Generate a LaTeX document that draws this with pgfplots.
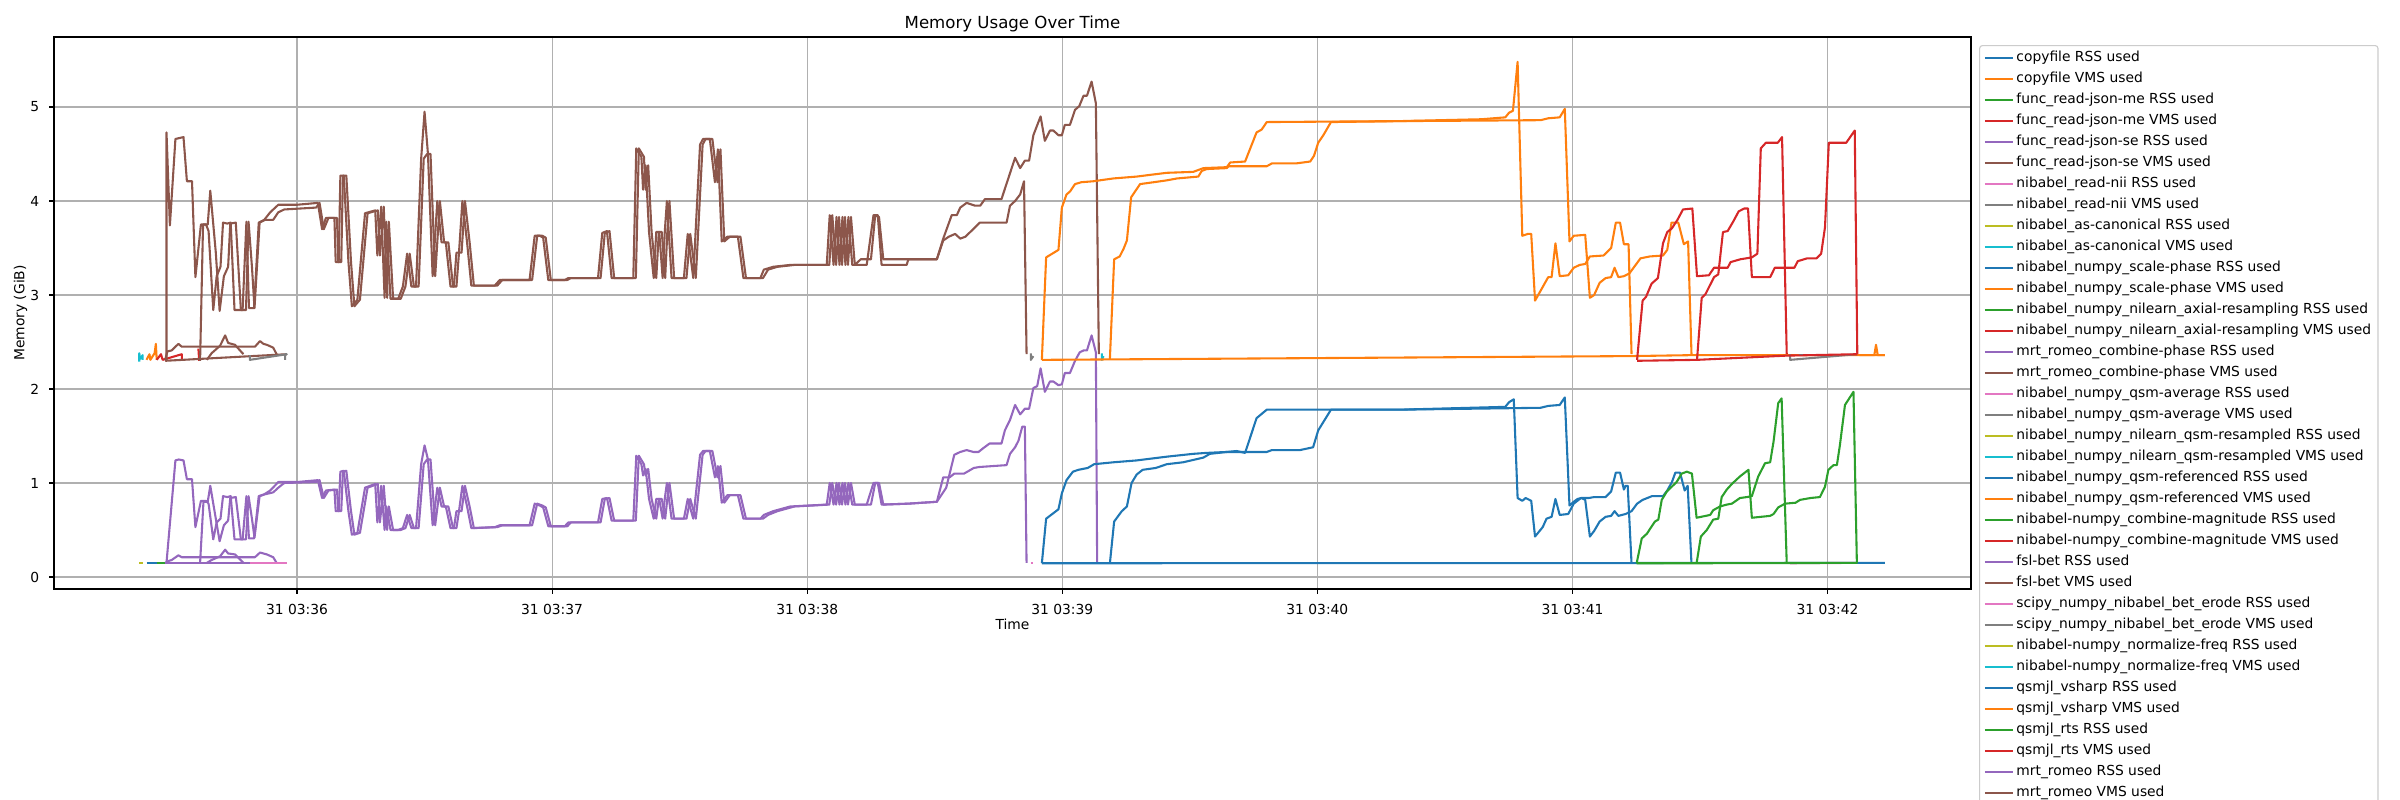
\documentclass[border=0pt]{standalone}
\usepackage{pgfplots}
\pgfplotsset{compat=1.18}
\usepackage{fontspec}
\setmainfont{DejaVu Sans}
\definecolor{C0}{HTML}{1F77B4}
\definecolor{C1}{HTML}{FF7F0E}
\definecolor{C2}{HTML}{2CA02C}
\definecolor{C3}{HTML}{D62728}
\definecolor{C4}{HTML}{9467BD}
\definecolor{C5}{HTML}{8C564B}
\definecolor{C6}{HTML}{E377C2}
\definecolor{C7}{HTML}{7F7F7F}
\definecolor{C8}{HTML}{BCBD22}
\definecolor{C9}{HTML}{17BECF}
\definecolor{gridgray}{HTML}{B0B0B0}
\definecolor{legframe}{HTML}{CCCCCC}
\begin{document}
\fontsize{10}{12}\selectfont
\begin{tikzpicture}
\path[use as bounding box, clip] (0,0) rectangle (24in,8in);
\begin{axis}[
  at={(0.54in,2.11in)}, anchor=south west,
  width=19.17in, height=5.52in, scale only axis,
  xmin=2.84, xmax=453.75, ymin=-0.128, ymax=5.745,
  xtick={60,120,180,240,300,360,420},
  xticklabels={31 03:36,31 03:37,31 03:38,31 03:39,31 03:40,31 03:41,31 03:42},
  ytick={0,1,2,3,4,5},
  /pgf/number format/assume math mode=true,
  tick label style={font=\fontsize{10}{12}\selectfont},
  xticklabel style={anchor=north, inner sep=0pt, yshift=-7bp},
  yticklabel style={anchor=east, inner sep=0pt, xshift=-7bp},
  grid=major,
  major grid style={draw=gridgray, line width=0.8bp},
  axis line style={line width=0.8bp, black},
  tick align=outside, tick pos=left,
  major tick length=3.5bp,
  every tick/.style={black, line width=0.8bp},
  every axis plot/.append style={line width=1.5bp, line join=round},
  legend image code/.code={\draw[#1] (0bp,0bp) -- (20bp,0bp);},
  legend style={at={(1,1)}, anchor=north west, xshift=5.8bp, yshift=-5.8bp,
    draw=legframe, line width=0.8bp, rounded corners=2bp, fill=white,
    font=\fontsize{10}{12}\selectfont, cells={anchor=west},
    nodes={text height=7.6bp, text depth=2.4bp, inner ysep=0bp},
    row sep=5.12bp, inner xsep=3bp, inner ysep=4bp,
    /tikz/every even column/.append style={column sep=4bp}},
]
% ---------- early small processes ----------
\addplot[C8, forget plot] coordinates {(22.9,0.146) (23.7,0.146)};
\addplot[C9, forget plot] coordinates {(22.9,2.29) (22.9,2.38) (23.1,2.32) (23.7,2.36) (23.7,2.31)};
\addplot[C0, forget plot] coordinates {(24.6,0.146) (27.0,0.146)};
\addplot[C1, forget plot] coordinates {(24.6,2.31) (25.3,2.37) (25.5,2.31) (26.5,2.38) (26.8,2.48) (27.0,2.31)};
\addplot[C2, forget plot] coordinates {(27.0,0.146) (32.9,0.146)};
\addplot[C3, forget plot] coordinates {(27.0,2.31) (28.0,2.37) (28.4,2.31) (32.9,2.37) (32.9,2.30)};
\addplot[C2, forget plot] coordinates {(36.8,0.146) (37.0,0.146)};
\addplot[C3, forget plot] coordinates {(36.8,2.43) (37.0,2.30)};
% small func_read-json-se
\addplot[C4, forget plot] coordinates {(29.0,0.15) (29.8,0.17) (30.5,0.18) (32.1,0.23) (32.9,0.21) (50.1,0.21) (51.3,0.26) (52.9,0.24) (54.4,0.21) (55.2,0.15)};
\addplot[C4, forget plot] coordinates {(38.8,0.15) (39.9,0.18) (41.9,0.22) (43.1,0.29) (43.8,0.25) (45.4,0.24) (47.4,0.15)};
\addplot[C4, forget plot] coordinates {(29.0,0.146) (57.6,0.146)};
\addplot[C5, forget plot] coordinates {(29.0,2.31) (29.5,2.40) (30.5,2.41) (32.1,2.48) (32.9,2.45) (50.1,2.45) (51.3,2.51) (52.1,2.48) (52.9,2.47) (54.4,2.44) (55.2,2.37)};
\addplot[C5, forget plot] coordinates {(38.8,2.31) (39.9,2.38) (41.9,2.46) (43.1,2.57) (43.8,2.49) (45.4,2.47) (47.4,2.37)};
\addplot[C5, forget plot] coordinates {(29.0,2.30) (57.6,2.37)};
\addplot[C6, forget plot] coordinates {(48.9,0.146) (57.6,0.146)};
\addplot[C7, forget plot] coordinates {(48.9,2.36) (48.9,2.31) (57.6,2.37) (57.2,2.37) (57.2,2.31)};
% ---------- main purple (RSS) ----------
\addplot[C4, forget plot] coordinates {
(29.3,0.15) (31.4,1.24) (32.2,1.25) (33.3,1.24) (34.1,1.04) (35.3,1.04) (36.1,0.53) (37.4,0.81) (38.6,0.81) (39.2,0.78)
(40.3,0.40) (41.1,0.58) (42.0,0.62) (42.6,0.86) (43.6,0.85) (44.4,0.86) (45.3,0.40) (47.2,0.40) (48.1,0.86) (48.7,0.41)
(49.9,0.41) (51.0,0.86) (52.3,0.88) (53.7,0.92) (55.6,1.01) (60.0,1.01) (64.9,1.03) (65.9,0.84) (66.8,0.92) (68.8,0.93)
(69.1,0.70) (69.8,0.70) (70.2,1.12) (71.0,1.13) (72.1,0.70) (72.9,0.45) (74.2,0.47) (76.0,0.95) (78.4,0.99) (78.9,0.58)
(79.8,0.97) (80.6,0.50) (81.0,0.75) (82.0,0.50) (83.8,0.50) (84.9,0.52) (85.9,0.66) (86.9,0.52) (88.0,0.52) (89.2,1.20)
(90.0,1.40) (90.8,1.25) (91.9,0.55) (93.0,0.95) (94.0,0.75) (95.0,0.75) (96.1,0.52) (96.9,0.52) (97.5,0.70) (98.1,0.70)
(98.9,0.97) (100.0,0.75) (101.0,0.52) (106.5,0.53) (107.7,0.55) (114.7,0.55) (115.9,0.78) (117.1,0.76) (117.9,0.74) (119.1,0.54)
(123.0,0.54) (123.8,0.58) (130.8,0.58) (131.8,0.83) (132.9,0.84) (134.0,0.60) (139.1,0.60) (139.8,1.29) (141.0,1.20) (141.4,1.08)
(142.0,1.15) (142.8,0.83) (143.9,0.62) (144.5,0.83) (145.2,0.83) (146.0,0.62) (146.5,0.83) (147.0,1.00) (148.1,0.62) (151.0,0.62)
(151.9,0.83) (153.2,0.62) (154.8,1.30) (155.5,1.34) (157.1,1.34) (158.3,1.06) (159.0,1.18) (159.9,0.79) (161.2,0.87) (163.7,0.87)
(165.0,0.62) (169.0,0.62) (169.8,0.66) (172.0,0.70) (176.0,0.75) (184.6,0.77) (185.3,1.00) (186.2,0.77) (186.9,1.00) (187.6,0.77)
(188.3,1.00) (189.0,0.77) (189.7,1.00) (190.6,0.77) (194.0,0.77) (195.6,1.00) (196.6,1.00) (197.5,0.77) (203.8,0.78) (210.5,0.80)
(212.7,0.95) (214.6,1.30) (216.0,1.33) (217.5,1.35) (219.1,1.33) (220.3,1.33) (221.4,1.37) (222.9,1.42) (225.7,1.42) (226.5,1.56)
(227.7,1.67) (228.9,1.83) (230.1,1.73) (231.2,1.79) (232.2,1.79) (233.2,2.01) (234.1,2.03) (234.9,2.22) (235.9,1.97) (237.1,2.08)
(237.9,2.08) (239.1,2.04) (239.9,2.05) (240.6,2.17) (241.8,2.17) (243.0,2.30) (244.1,2.39) (245.0,2.41) (245.8,2.41) (246.9,2.57)
(247.9,2.39) (248.2,0.15)};
\addplot[C4, forget plot] coordinates {
(37.2,0.15) (38.0,0.80) (39.0,0.80) (39.6,0.97) (40.9,0.62) (41.8,0.38) (42.8,0.55) (43.8,0.60) (44.3,0.84) (45.6,0.85)
(46.8,0.40) (48.0,0.40) (48.6,0.86) (49.4,0.62) (50.0,0.42) (51.2,0.86) (52.5,0.88) (54.4,0.90) (55.6,0.95) (57.0,1.00)
(64.5,1.01) (65.3,1.03) (66.3,0.84) (67.4,0.92) (69.4,0.93) (69.7,0.70) (70.4,0.70) (70.8,1.12) (71.6,1.13) (72.7,0.70)
(73.5,0.45) (74.8,0.47) (76.6,0.95) (79.0,0.99) (79.5,0.58) (80.4,0.97) (81.2,0.50) (81.6,0.75) (82.6,0.50) (84.4,0.50)
(85.5,0.52) (86.5,0.66) (87.5,0.52) (88.6,0.52) (89.8,1.20) (90.6,1.25) (91.4,1.25) (92.5,0.55) (93.6,0.95) (94.6,0.75)
(95.6,0.75) (96.7,0.52) (97.5,0.52) (98.1,0.70) (98.7,0.70) (99.5,0.97) (100.6,0.75) (101.6,0.52) (107.1,0.53) (108.3,0.55)
(115.3,0.55) (116.5,0.78) (117.7,0.76) (118.5,0.74) (119.7,0.54) (123.6,0.54) (124.4,0.58) (131.4,0.58) (132.4,0.83) (133.5,0.84)
(134.6,0.60) (139.7,0.60) (140.4,1.29) (141.6,1.20) (142.0,1.08) (142.6,1.15) (143.4,0.83) (144.5,0.62) (145.1,0.83) (145.8,0.83)
(146.6,0.62) (147.1,0.83) (147.6,1.00) (148.7,0.62) (151.6,0.62) (152.5,0.83) (153.8,0.62) (155.4,1.30) (156.1,1.34) (157.7,1.34)
(158.9,1.06) (159.6,1.18) (160.5,0.79) (161.8,0.87) (164.3,0.87) (165.6,0.62) (169.6,0.62) (170.8,0.66) (173.0,0.70) (177.0,0.75)
(185.2,0.77) (185.9,1.00) (186.8,0.77) (187.5,1.00) (188.2,0.77) (188.9,1.00) (189.6,0.77) (190.3,1.00) (191.2,0.77) (195.0,0.77)
(196.0,1.00) (196.9,1.00) (197.9,0.77) (203.8,0.78) (210.5,0.80) (212.0,1.06) (213.5,1.06) (214.6,1.10) (216.9,1.10) (219.2,1.16)
(220.5,1.17) (226.9,1.19) (227.7,1.31) (228.9,1.38) (229.7,1.45) (230.6,1.60) (231.2,1.60) (231.6,0.15)};
% ---------- main brown (VMS) ----------
\addplot[C5, forget plot] coordinates {
(29.3,2.30) (29.3,4.73) (30.1,3.74) (31.4,4.66) (33.3,4.68) (34.1,4.21) (35.3,4.21) (36.1,3.19) (37.4,3.75) (38.6,3.75)
(39.2,3.68) (40.3,2.84) (41.1,3.20) (42.0,3.30) (42.6,3.77) (43.6,3.76) (44.4,3.77) (45.3,2.84) (47.2,2.84) (48.1,3.78)
(48.7,2.86) (49.9,2.86) (51.0,3.77) (52.3,3.80) (53.7,3.88) (55.6,3.96) (60.0,3.96) (64.9,3.98) (65.9,3.70) (66.8,3.82)
(68.8,3.82) (69.1,3.35) (69.8,3.35) (70.2,4.27) (71.0,4.27) (72.1,3.35) (72.9,2.88) (74.2,2.95) (76.0,3.87) (78.4,3.90)
(78.9,3.42) (79.8,3.94) (80.6,2.97) (81.0,3.78) (82.0,2.96) (83.8,2.96) (84.9,3.09) (85.9,3.44) (86.9,3.09) (88.0,3.09)
(89.2,4.45) (90.0,4.95) (90.8,4.50) (91.9,3.20) (93.0,4.00) (94.0,3.56) (95.0,3.56) (96.1,3.09) (96.9,3.09) (97.5,3.45)
(98.1,3.45) (98.9,4.00) (100.0,3.56) (101.0,3.10) (106.5,3.10) (107.7,3.16) (114.7,3.16) (115.9,3.63) (117.1,3.63) (117.9,3.61)
(119.1,3.16) (123.0,3.16) (123.8,3.18) (130.8,3.18) (131.8,3.66) (132.9,3.68) (134.0,3.18) (139.1,3.18) (139.8,4.56) (141.0,4.47)
(141.4,4.12) (142.0,4.38) (142.8,3.67) (143.9,3.18) (144.5,3.67) (145.2,3.67) (146.0,3.18) (146.5,3.67) (147.0,4.00) (148.1,3.18)
(151.0,3.18) (151.9,3.65) (153.2,3.18) (154.8,4.60) (155.5,4.66) (157.1,4.66) (158.3,4.20) (159.0,4.55) (159.9,3.57) (161.2,3.62)
(163.7,3.62) (165.0,3.18) (169.0,3.18) (169.8,3.27) (172.0,3.30) (176.0,3.32) (184.6,3.32) (185.3,3.85) (186.2,3.32) (186.9,3.83)
(187.6,3.32) (188.3,3.83) (189.0,3.32) (189.7,3.83) (190.6,3.32) (194.0,3.32) (195.6,3.85) (196.6,3.85) (197.5,3.32) (203.4,3.32)
(203.8,3.38) (210.5,3.38) (212.0,3.60) (214.0,3.85) (215.2,3.85) (216.0,3.93) (217.5,3.98) (219.5,3.95) (220.7,3.95) (221.8,4.02)
(225.7,4.02) (228.9,4.46) (230.1,4.35) (231.2,4.43) (232.2,4.43) (233.2,4.70) (234.9,4.90) (235.9,4.64) (237.1,4.75) (237.9,4.75)
(239.1,4.70) (239.9,4.70) (240.6,4.81) (241.8,4.81) (243.0,4.97) (244.0,5.01) (245.0,5.12) (245.8,5.12) (246.9,5.27) (247.9,5.04)
(248.6,2.37)};
\addplot[C5, forget plot] coordinates {
(37.2,2.30) (37.9,3.75) (39.0,3.75) (39.6,4.11) (40.9,3.45) (41.8,2.83) (42.8,3.20) (43.8,3.30) (44.3,3.76) (45.6,3.77)
(46.8,2.84) (48.0,2.84) (48.6,3.78) (49.4,3.30) (50.0,2.86) (51.2,3.77) (52.5,3.80) (54.4,3.80) (55.6,3.88) (57.0,3.91)
(64.5,3.93) (65.3,3.98) (66.3,3.70) (67.4,3.82) (69.4,3.82) (69.7,3.35) (70.4,3.35) (70.8,4.27) (71.6,4.27) (72.7,3.35)
(73.5,2.88) (74.8,2.95) (76.6,3.87) (79.0,3.90) (79.5,3.42) (80.4,3.94) (81.2,2.97) (81.6,3.78) (82.6,2.96) (84.4,2.96)
(85.5,3.09) (86.5,3.44) (87.5,3.09) (88.6,3.09) (89.8,4.45) (90.6,4.50) (91.4,4.50) (92.5,3.20) (93.6,4.00) (94.6,3.56)
(95.6,3.56) (96.7,3.09) (97.5,3.09) (98.1,3.45) (98.7,3.45) (99.5,4.00) (100.6,3.56) (101.6,3.10) (107.1,3.10) (108.3,3.16)
(115.3,3.16) (116.5,3.63) (117.7,3.63) (118.5,3.61) (119.7,3.16) (123.6,3.16) (124.4,3.18) (131.4,3.18) (132.4,3.66) (133.5,3.68)
(134.6,3.18) (139.7,3.18) (140.4,4.56) (141.6,4.47) (142.0,4.12) (142.6,4.38) (143.4,3.67) (144.5,3.18) (145.1,3.67) (145.8,3.67)
(146.6,3.18) (147.1,3.67) (147.6,4.00) (148.7,3.18) (151.6,3.18) (152.5,3.65) (153.8,3.18) (155.4,4.60) (156.1,4.66) (157.7,4.66)
(158.9,4.20) (159.6,4.55) (160.5,3.57) (161.8,3.62) (164.3,3.62) (165.6,3.18) (169.6,3.18) (170.8,3.27) (173.0,3.30) (177.0,3.32)
(185.2,3.32) (185.9,3.85) (186.8,3.32) (187.5,3.83) (188.2,3.32) (188.9,3.83) (189.6,3.32) (190.3,3.83) (191.2,3.32) (192.6,3.38)
(195.0,3.38) (196.0,3.85) (196.9,3.83) (197.9,3.38) (203.8,3.38) (210.5,3.38) (212.0,3.58) (213.3,3.62) (214.8,3.65) (216.0,3.60)
(217.2,3.62) (219.5,3.72) (220.6,3.77) (226.9,3.77) (227.7,3.95) (228.9,4.00) (230.1,4.07) (231.0,4.21) (231.6,2.37)};
% small marks
\addplot[C6, forget plot] coordinates {(232.6,0.146) (233.2,0.146)};
\addplot[C7, forget plot] coordinates {(232.6,2.38) (232.6,2.31) (233.2,2.35)};
\addplot[C8, forget plot] coordinates {(249.3,0.146) (249.7,0.146)};
\addplot[C9, forget plot] coordinates {(249.3,2.38) (249.3,2.31) (249.7,2.35)};
% ---------- blue (RSS) ----------
\addplot[C0, forget plot] coordinates {(235.2,0.146) (373.9,0.148) (388.0,0.15) (433.5,0.15)};
\addplot[C0, forget plot] coordinates {
(235.2,0.146) (236.2,0.62) (239.1,0.72) (239.9,0.89) (241.0,1.03) (242.5,1.12) (243.8,1.14) (246.0,1.16) (247.5,1.20) (252.0,1.22)
(257.5,1.24) (264.6,1.28) (270.8,1.31) (273.9,1.32) (278.7,1.33) (281.0,1.34) (283.0,1.32) (285.7,1.69) (288.1,1.78) (319.4,1.78)
(344.2,1.81) (345.1,1.86) (346.2,1.89) (347.1,0.84) (348.2,0.81) (349.0,0.84) (350.3,0.81) (351.2,0.43) (353.0,0.53) (353.9,0.62)
(355.1,0.64) (356.0,0.83) (357.0,0.66) (359.0,0.67) (360.3,0.78) (362.0,0.84) (363.8,0.84) (365.1,0.85) (367.8,0.85) (369.1,0.91)
(370.2,1.11) (371.2,1.11) (372.1,0.93) (372.5,0.97) (373.0,0.97) (373.9,0.14)};
\addplot[C0, forget plot] coordinates {
(251.2,0.146) (252.2,0.59) (254.0,0.70) (255.2,0.75) (256.3,1.00) (257.5,1.09) (258.9,1.14) (262.0,1.16) (264.6,1.20) (268.4,1.22)
(273.2,1.27) (274.7,1.31) (278.7,1.33) (288.1,1.33) (289.3,1.35) (295.9,1.35) (299.0,1.38) (300.2,1.56) (303.2,1.78) (319.4,1.78)
(352.5,1.80) (354.3,1.82) (357.0,1.83) (358.2,1.91) (359.3,0.76) (360.3,0.80) (361.2,0.83) (362.1,0.84) (363.0,0.82) (364.1,0.43)
(365.1,0.49) (366.4,0.59) (367.8,0.64) (369.1,0.65) (369.9,0.70) (370.8,0.65) (372.5,0.67) (373.9,0.70) (375.2,0.78) (376.5,0.82)
(378.7,0.86) (381.3,0.86) (382.3,0.92) (383.4,1.01) (384.2,1.11) (385.3,1.11) (386.4,0.92) (387.1,0.97) (388.0,0.14)};
% ---------- orange (VMS) ----------
\addplot[C1, forget plot] coordinates {(235.2,2.31) (373.9,2.35) (388.0,2.36) (433.5,2.36)};
\addplot[C1, forget plot] coordinates {(427.5,2.36) (431.0,2.36) (431.4,2.47) (431.8,2.36) (433.5,2.36)};
\addplot[C1, forget plot] coordinates {
(235.2,2.31) (236.2,3.40) (239.1,3.48) (239.9,3.93) (241.0,4.07) (241.8,4.10) (243.0,4.18) (244.5,4.20) (247.3,4.21) (252.0,4.24)
(257.5,4.26) (261.0,4.28) (264.6,4.30) (270.8,4.31) (273.2,4.35) (278.7,4.36) (279.5,4.41) (283.0,4.42) (285.7,4.73) (286.9,4.76)
(288.1,4.84) (319.4,4.85) (338.6,4.87) (344.2,4.89) (345.1,4.94) (346.0,4.96) (347.1,5.48) (348.2,3.63) (349.5,3.65) (350.3,3.65)
(351.2,2.94) (354.3,3.19) (355.1,3.19) (356.0,3.55) (357.0,3.20) (359.0,3.21) (360.3,3.29) (361.7,3.32) (363.0,3.33) (364.1,3.41)
(367.3,3.42) (369.1,3.50) (370.2,3.77) (371.2,3.77) (372.1,3.54) (373.2,3.54) (373.9,2.37)};
\addplot[C1, forget plot] coordinates {
(251.2,2.32) (252.2,3.38) (253.5,3.41) (254.4,3.49) (255.2,3.58) (256.2,4.04) (258.3,4.18) (261.5,4.20) (264.6,4.22) (267.0,4.24)
(272.0,4.26) (272.8,4.32) (274.0,4.34) (278.7,4.35) (279.1,4.37) (288.1,4.37) (289.3,4.40) (295.0,4.40) (298.3,4.42) (299.2,4.48)
(300.2,4.62) (301.4,4.70) (303.2,4.84) (319.4,4.85) (352.5,4.86) (354.3,4.88) (357.0,4.89) (358.2,4.98) (359.3,3.57) (360.3,3.63)
(363.0,3.64) (364.1,2.97) (365.1,3.00) (366.4,3.13) (367.8,3.18) (369.1,3.19) (369.9,3.29) (370.8,3.19) (372.1,3.20) (373.4,3.23)
(376.0,3.39) (378.2,3.41) (381.3,3.42) (382.3,3.48) (383.3,3.77) (384.9,3.77) (386.2,3.54) (387.2,3.57) (388.0,2.37)};
% ---------- late small marks ----------
\addplot[C6, forget plot] coordinates {(411.2,0.146) (426.9,0.15)};
\addplot[C7, forget plot] coordinates {(411.2,2.37) (411.2,2.31) (426.9,2.37)};
\addplot[C8, forget plot] coordinates {(413.2,0.146) (415.2,0.146)};
\addplot[C9, forget plot] coordinates {(413.2,2.36) (415.2,2.36)};
% ---------- green (RSS) ----------
\addplot[C2, forget plot] coordinates {(375.1,0.146) (389.2,0.146) (427.0,0.15)};
\addplot[C2, forget plot] coordinates {
(375.1,0.146) (376.3,0.41) (377.5,0.46) (379.4,0.59) (380.2,0.61) (381.0,0.82) (382.2,0.91) (384.5,1.01) (385.7,1.10) (386.9,1.12)
(388.1,1.10) (389.2,0.63) (392.4,0.66) (393.1,0.71) (394.7,0.75) (396.3,0.77) (397.5,0.78) (399.4,0.84) (401.0,0.85) (402.2,0.86)
(403.7,1.07) (405.3,1.21) (406.5,1.22) (407.3,1.44) (408.4,1.85) (409.2,1.90) (410.4,0.146)};
\addplot[C2, forget plot] coordinates {
(389.2,0.146) (390.2,0.43) (391.6,0.50) (393.1,0.61) (394.3,0.62) (395.1,0.85) (396.3,0.93) (397.5,0.99) (399.4,1.07) (401.4,1.14)
(402.2,0.63) (406.5,0.65) (407.3,0.67) (408.4,0.74) (410.0,0.78) (412.5,0.79) (413.5,0.82) (416.0,0.84) (418.2,0.85) (419.4,0.96)
(420.2,1.14) (421.4,1.19) (422.2,1.19) (422.9,1.40) (424.1,1.83) (426.1,1.97) (426.9,0.146)};
% ---------- red (VMS) ----------
\addplot[C3, forget plot] coordinates {(375.2,2.30) (389.3,2.31) (410.4,2.355) (427.0,2.37)};
\addplot[C3, forget plot] coordinates {
(375.2,2.31) (376.5,2.94) (377.3,2.98) (378.6,3.12) (380.1,3.18) (381.3,3.55) (382.3,3.67) (383.4,3.71) (384.7,3.80) (386.0,3.91)
(388.2,3.92) (389.3,3.20) (392.1,3.21) (393.3,3.29) (396.5,3.29) (397.2,3.35) (399.5,3.38) (402.2,3.40) (403.5,3.44) (404.3,4.56)
(405.5,4.62) (408.3,4.62) (409.3,4.68) (410.4,2.37)};
\addplot[C3, forget plot] coordinates {
(389.3,2.31) (390.4,2.97) (391.3,3.01) (393.3,3.19) (394.3,3.22) (395.4,3.67) (396.5,3.68) (397.8,3.78) (399.1,3.89) (400.4,3.92)
(401.3,3.92) (402.2,3.19) (406.5,3.19) (407.6,3.29) (412.2,3.29) (413.0,3.36) (415.2,3.39) (417.4,3.39) (418.5,3.44) (419.4,3.72)
(420.3,4.62) (424.4,4.62) (426.4,4.75) (427.0,2.37)};
% ---------- legend ----------
\addlegendimage{C0, line width=1.5bp}\addlegendentry{copyfile RSS used}
\addlegendimage{C1, line width=1.5bp}\addlegendentry{copyfile VMS used}
\addlegendimage{C2, line width=1.5bp}\addlegendentry{func\_read-json-me RSS used}
\addlegendimage{C3, line width=1.5bp}\addlegendentry{func\_read-json-me VMS used}
\addlegendimage{C4, line width=1.5bp}\addlegendentry{func\_read-json-se RSS used}
\addlegendimage{C5, line width=1.5bp}\addlegendentry{func\_read-json-se VMS used}
\addlegendimage{C6, line width=1.5bp}\addlegendentry{nibabel\_read-nii RSS used}
\addlegendimage{C7, line width=1.5bp}\addlegendentry{nibabel\_read-nii VMS used}
\addlegendimage{C8, line width=1.5bp}\addlegendentry{nibabel\_as-canonical RSS used}
\addlegendimage{C9, line width=1.5bp}\addlegendentry{nibabel\_as-canonical VMS used}
\addlegendimage{C0, line width=1.5bp}\addlegendentry{nibabel\_numpy\_scale-phase RSS used}
\addlegendimage{C1, line width=1.5bp}\addlegendentry{nibabel\_numpy\_scale-phase VMS used}
\addlegendimage{C2, line width=1.5bp}\addlegendentry{nibabel\_numpy\_nilearn\_axial-resampling RSS used}
\addlegendimage{C3, line width=1.5bp}\addlegendentry{nibabel\_numpy\_nilearn\_axial-resampling VMS used}
\addlegendimage{C4, line width=1.5bp}\addlegendentry{mrt\_romeo\_combine-phase RSS used}
\addlegendimage{C5, line width=1.5bp}\addlegendentry{mrt\_romeo\_combine-phase VMS used}
\addlegendimage{C6, line width=1.5bp}\addlegendentry{nibabel\_numpy\_qsm-average RSS used}
\addlegendimage{C7, line width=1.5bp}\addlegendentry{nibabel\_numpy\_qsm-average VMS used}
\addlegendimage{C8, line width=1.5bp}\addlegendentry{nibabel\_numpy\_nilearn\_qsm-resampled RSS used}
\addlegendimage{C9, line width=1.5bp}\addlegendentry{nibabel\_numpy\_nilearn\_qsm-resampled VMS used}
\addlegendimage{C0, line width=1.5bp}\addlegendentry{nibabel\_numpy\_qsm-referenced RSS used}
\addlegendimage{C1, line width=1.5bp}\addlegendentry{nibabel\_numpy\_qsm-referenced VMS used}
\addlegendimage{C2, line width=1.5bp}\addlegendentry{nibabel-numpy\_combine-magnitude RSS used}
\addlegendimage{C3, line width=1.5bp}\addlegendentry{nibabel-numpy\_combine-magnitude VMS used}
\addlegendimage{C4, line width=1.5bp}\addlegendentry{fsl-bet RSS used}
\addlegendimage{C5, line width=1.5bp}\addlegendentry{fsl-bet VMS used}
\addlegendimage{C6, line width=1.5bp}\addlegendentry{scipy\_numpy\_nibabel\_bet\_erode RSS used}
\addlegendimage{C7, line width=1.5bp}\addlegendentry{scipy\_numpy\_nibabel\_bet\_erode VMS used}
\addlegendimage{C8, line width=1.5bp}\addlegendentry{nibabel-numpy\_normalize-freq RSS used}
\addlegendimage{C9, line width=1.5bp}\addlegendentry{nibabel-numpy\_normalize-freq VMS used}
\addlegendimage{C0, line width=1.5bp}\addlegendentry{qsmjl\_vsharp RSS used}
\addlegendimage{C1, line width=1.5bp}\addlegendentry{qsmjl\_vsharp VMS used}
\addlegendimage{C2, line width=1.5bp}\addlegendentry{qsmjl\_rts RSS used}
\addlegendimage{C3, line width=1.5bp}\addlegendentry{qsmjl\_rts VMS used}
\addlegendimage{C4, line width=1.5bp}\addlegendentry{mrt\_romeo RSS used}
\addlegendimage{C5, line width=1.5bp}\addlegendentry{mrt\_romeo VMS used}
\end{axis}
\node[anchor=base, font=\fontsize{12}{14}\selectfont] at (10.125in,7.713in) {Memory Usage Over Time};
\node[font=\fontsize{10}{12}\selectfont] at (10.125in,1.755in) {Time};
\node[rotate=90, font=\fontsize{10}{12}\selectfont] at (0.205in,4.87in) {Memory (GiB)};
\end{tikzpicture}
\end{document}
